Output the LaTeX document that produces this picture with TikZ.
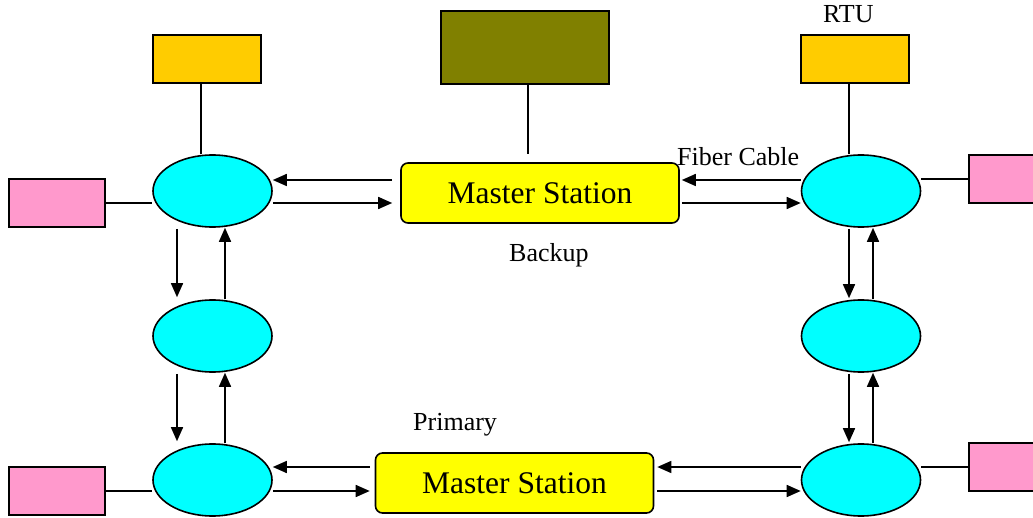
\documentclass[tikz,border=0pt]{standalone}
\usepackage{fontspec}
\setmainfont{Liberation Serif}
\usetikzlibrary{shapes.geometric,arrows.meta}
\definecolor{ellcol}{HTML}{00FFFF}
\definecolor{rtucol}{HTML}{FFCC00}
\definecolor{pinkcol}{HTML}{FF99CC}
\definecolor{olivecol}{HTML}{808000}
\definecolor{mscol}{HTML}{FFFF00}
\tikzset{
  ell/.style={ellipse, draw, fill=ellcol, line width=1.6pt, minimum width=119pt, minimum height=72pt, inner sep=0pt},
  rtubox/.style={rectangle, draw, fill=rtucol, line width=1.6pt, minimum width=108pt, minimum height=48pt, inner sep=0pt},
  pinkbox/.style={rectangle, draw, fill=pinkcol, line width=1.6pt, minimum width=96pt, minimum height=48pt, inner sep=0pt},
  olivebox/.style={rectangle, draw, fill=olivecol, line width=1.6pt, minimum width=168pt, minimum height=73pt, inner sep=0pt},
  msbox/.style={rectangle, rounded corners=7pt, draw, fill=mscol, line width=1.6pt, minimum width=278pt, minimum height=60pt, inner sep=0pt, font=\fontsize{31.5}{36}\selectfont},
  lbl/.style={anchor=base west, inner sep=0pt, font=\fontsize{26}{30}\selectfont},
  ln/.style={line width=1.6pt},
  arr/.style={line width=1.6pt, -{Triangle[length=14pt,width=12pt]}}
}
\begin{document}
\begin{tikzpicture}[x=1pt,y=-1pt]
\clip (0,0) rectangle (1033,518);
\fill[white] (0,0) rectangle (1033,518);
% nodes
\node[ell] (E1) at (212.5,191) {};
\node[ell] (E2) at (212.5,336) {};
\node[ell] (E3) at (212.5,480) {};
\node[ell] (E4) at (861,191) {};
\node[ell] (E5) at (861,336) {};
\node[ell] (E6) at (861,480) {};
\node[rtubox] (R1) at (207,59) {};
\node[rtubox] (R2) at (855,59) {};
\node[olivebox] (OL) at (525,47.5) {};
\node[pinkbox] (P1) at (57,203) {};
\node[pinkbox] (P2) at (1017,179) {};
\node[pinkbox] (P3) at (57,491) {};
\node[pinkbox] (P4) at (1017,467) {};
\node[msbox] (MT) at (540,193) {Master Station};
\node[msbox] (MB) at (514.5,483) {Master Station};
% labels
\node[lbl] (lrtu) at (823,23) {RTU};
\node[lbl] (lfib) at (677,166) {Fiber Cable};
\node[lbl] (lbak) at (509,262) {Backup};
\node[lbl] (lpri) at (413,430) {Primary};
% plain links
\draw[ln] ([xshift=-6pt]R1.south) -- ([xshift=-6pt]R1.south |- E1.north);
\draw[ln] ([xshift=-6pt]R2.south) -- ([xshift=-6pt]R2.south |- E4.north);
\draw[ln] ([xshift=3pt]OL.south) -- ([xshift=3pt,yshift=8pt]OL.south |- MT.north);
\draw[ln] (P1.east) -- (P1.east -| E1.west);
\draw[ln] (P2.west) -- (P2.west -| E4.east);
\draw[ln] (P3.east) -- (P3.east -| E3.west);
\draw[ln] (P4.west) -- (P4.west -| E6.east);
% horizontal arrows top
\draw[arr] ([xshift=-8pt,yshift=13pt]MT.west) -- ([yshift=13pt]MT.west -| E1.east);
\draw[arr] ([yshift=-10pt]MT.west -| E1.east) -- ([xshift=-8pt,yshift=-10pt]MT.west);
\draw[arr] ([yshift=13pt]MT.east -| E4.west) -- ([xshift=2pt,yshift=13pt]MT.east);
\draw[arr] ([xshift=2pt,yshift=-10pt]MT.east) -- ([yshift=-10pt]MT.east -| E4.west);
% horizontal arrows bottom
\draw[arr] ([xshift=-5pt,yshift=16pt]MB.west) -- ([yshift=16pt]MB.west -| E3.east);
\draw[arr] ([yshift=-8pt]MB.west -| E3.east) -- ([xshift=-5pt,yshift=-8pt]MB.west);
\draw[arr] ([yshift=16pt]MB.east -| E6.west) -- ([xshift=3pt,yshift=16pt]MB.east);
\draw[arr] ([xshift=3pt,yshift=-8pt]MB.east) -- ([yshift=-8pt]MB.east -| E6.west);
% vertical arrows left
\draw[arr] ([xshift=-35.5pt,yshift=-1pt]E1.south) -- ([xshift=-35.5pt,yshift=2pt]E2.north);
\draw[arr] ([xshift=12.5pt]E2.north) -- ([xshift=12.5pt]E1.south);
\draw[arr] ([xshift=-35.5pt,yshift=-1pt]E2.south) -- ([xshift=-35.5pt,yshift=2pt]E3.north);
\draw[arr] ([xshift=12.5pt]E3.north) -- ([xshift=12.5pt]E2.south);
% vertical arrows right
\draw[arr] ([xshift=-12pt,yshift=-1pt]E4.south) -- ([xshift=-12pt,yshift=1pt]E5.north);
\draw[arr] ([xshift=12pt]E5.north) -- ([xshift=12pt]E4.south);
\draw[arr] ([xshift=-12pt,yshift=-1pt]E5.south) -- ([xshift=-12pt,yshift=1pt]E6.north);
\draw[arr] ([xshift=12pt]E6.north) -- ([xshift=12pt]E5.south);
\end{tikzpicture}
\end{document}
